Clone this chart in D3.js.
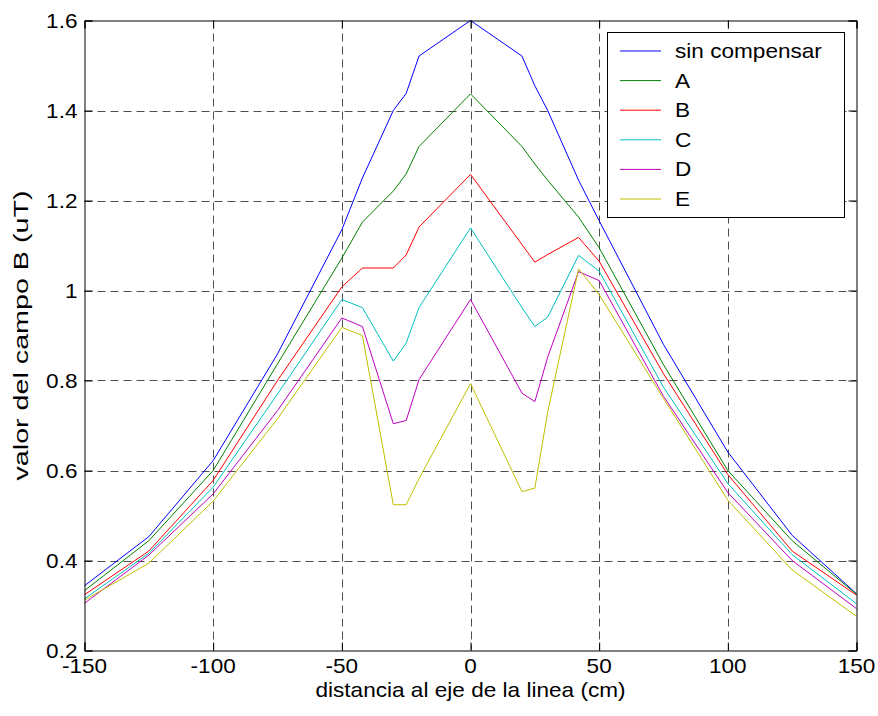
<!DOCTYPE html>
<html>
<head>
<meta charset="utf-8">
<script src="https://cdn.jsdelivr.net/npm/d3@7/dist/d3.min.js"></script>
<style>
  html, body { margin: 0; padding: 0; background: #fff; }
  svg text { font-family: "Liberation Sans", Arial, sans-serif; fill: #000; }
</style>
</head>
<body>
<svg id="chart" width="878" height="716"></svg>
<script>
// Distance from the line axis (cm)
const distances = [-150, -125, -100, -75, -50, -42, -30, -25, -20, 0, 20, 25, 30, 42, 50, 75, 100, 125, 150];

// Field values B (uT) for each configuration
const sinCompensar = [0.344, 0.453, 0.622, 0.859, 1.135, 1.25, 1.40, 1.438, 1.521, 1.60, 1.521, 1.455, 1.40, 1.245, 1.155, 0.88, 0.641, 0.456, 0.326];
const serieA = [0.333, 0.444, 0.60, 0.837, 1.072, 1.152, 1.221, 1.259, 1.32, 1.437, 1.32, 1.281, 1.245, 1.163, 1.095, 0.835, 0.60, 0.444, 0.325];
const serieB = [0.324, 0.421, 0.578, 0.80, 1.008, 1.05, 1.05, 1.079, 1.141, 1.258, 1.102, 1.063, 1.08, 1.118, 1.065, 0.815, 0.591, 0.421, 0.323];
const serieC = [0.315, 0.416, 0.563, 0.77, 0.98, 0.962, 0.843, 0.883, 0.962, 1.139, 0.962, 0.92, 0.941, 1.078, 1.043, 0.785, 0.571, 0.413, 0.304];
const serieD = [0.305, 0.412, 0.548, 0.733, 0.939, 0.92, 0.704, 0.711, 0.802, 0.98, 0.772, 0.753, 0.852, 1.042, 1.022, 0.765, 0.551, 0.40, 0.293];
const serieE = [0.312, 0.394, 0.532, 0.715, 0.918, 0.90, 0.524, 0.524, 0.582, 0.793, 0.553, 0.561, 0.73, 1.048, 0.991, 0.76, 0.534, 0.379, 0.276];

const seriesNames = ["sin compensar", "A", "B", "C", "D", "E"];
const seriesColors = ["#0000ff", "#008000", "#ff0000", "#00bfbf", "#bf00bf", "#bfbf00"];
const seriesValues = [sinCompensar, serieA, serieB, serieC, serieD, serieE];

const xTicks = [-150, -100, -50, 0, 50, 100, 150];
const yTicks = [0.2, 0.4, 0.6, 0.8, 1.0, 1.2, 1.4, 1.6];

const plot = { left: 84.5, right: 856.5, top: 20.5, bottom: 650.5 };
const fontSize = 20;
const stretch = 1.13;

const svg = d3.select("#chart");

const x = d3.scaleLinear().domain([-150, 150]).range([plot.left, plot.right]);
const y = d3.scaleLinear().domain([0.2, 1.6]).range([plot.bottom, plot.top]);

// text helper: horizontally widened glyphs
function label(g, str, px, py, anchor, rotate) {
  const t = g.append("g")
    .attr("transform", `translate(${px},${py})` + (rotate ? ` rotate(${rotate})` : "") + ` scale(${stretch},1)`);
  t.append("text")
    .attr("text-anchor", anchor)
    .attr("font-size", fontSize)
    .text(str);
  return t;
}

// grid
const grid = svg.append("g")
  .attr("stroke", "#222").attr("stroke-width", 1).attr("stroke-dasharray", "8,5").attr("opacity", 0.8);
xTicks.slice(1, -1).forEach(v => {
  grid.append("line").attr("x1", Math.round(x(v)) + 0.5).attr("x2", Math.round(x(v)) + 0.5)
    .attr("y1", plot.top).attr("y2", plot.bottom);
});
yTicks.slice(1, -1).forEach(v => {
  grid.append("line").attr("y1", Math.round(y(v)) + 0.5).attr("y2", Math.round(y(v)) + 0.5)
    .attr("x1", plot.left).attr("x2", plot.right);
});

// series lines
const line = d3.line().x((d, i) => x(distances[i])).y(d => y(d));
seriesValues.forEach((vals, k) => {
  svg.append("path")
    .datum(vals)
    .attr("d", line)
    .attr("fill", "none")
    .attr("stroke", seriesColors[k])
    .attr("stroke-width", 1);
});

// axes, ticks inward on all four sides
const tickLen = 8;
const axisBottom = d3.axisBottom(x).tickValues(xTicks).tickSize(-tickLen).tickFormat("");
const axisTop = d3.axisTop(x).tickValues(xTicks).tickSize(-tickLen).tickFormat("");
const axisLeft = d3.axisLeft(y).tickValues(yTicks).tickSize(-tickLen).tickFormat("");
const axisRight = d3.axisRight(y).tickValues(yTicks).tickSize(-tickLen).tickFormat("");

function styleAxis(g) {
  g.selectAll("path").attr("stroke", "#000").attr("stroke-width", 1);
  g.selectAll("line").attr("stroke", "#000").attr("stroke-width", 1);
}
svg.append("g").attr("transform", `translate(0,${plot.bottom})`).call(axisBottom).call(styleAxis);
svg.append("g").attr("transform", `translate(0,${plot.top})`).call(axisTop).call(styleAxis);
svg.append("g").attr("transform", `translate(${plot.left},0)`).call(axisLeft).call(styleAxis);
svg.append("g").attr("transform", `translate(${plot.right},0)`).call(axisRight).call(styleAxis);

// tick labels
const labels = svg.append("g");
xTicks.forEach(v => label(labels, String(v), x(v), plot.bottom + 22, "middle"));
yTicks.forEach(v => label(labels, d3.format("~g")(v), plot.left - 7, y(v) + 7, "end"));

// axis titles
label(labels, "distancia al eje de la linea (cm)", (plot.left + plot.right) / 2, 697, "middle");
labels.append("text")
  .attr("transform", `translate(28,${(plot.top + plot.bottom) / 2}) rotate(-90)`)
  .attr("text-anchor", "middle")
  .attr("font-size", fontSize)
  .attr("textLength", 290)
  .attr("lengthAdjust", "spacingAndGlyphs")
  .text("valor del campo B (uT)");

// legend
const lg = svg.append("g");
lg.append("rect").attr("x", 607.5).attr("y", 32.5).attr("width", 237).attr("height", 185)
  .attr("fill", "#fff").attr("stroke", "#000").attr("stroke-width", 1);
seriesNames.forEach((name, i) => {
  const cy = 51 + i * 29.6;
  lg.append("line").attr("x1", 620).attr("x2", 661).attr("y1", cy).attr("y2", cy)
    .attr("stroke", seriesColors[i]).attr("stroke-width", 1);
  label(lg, name, 675, cy + 7, "start");
});
</script>
</body>
</html>
